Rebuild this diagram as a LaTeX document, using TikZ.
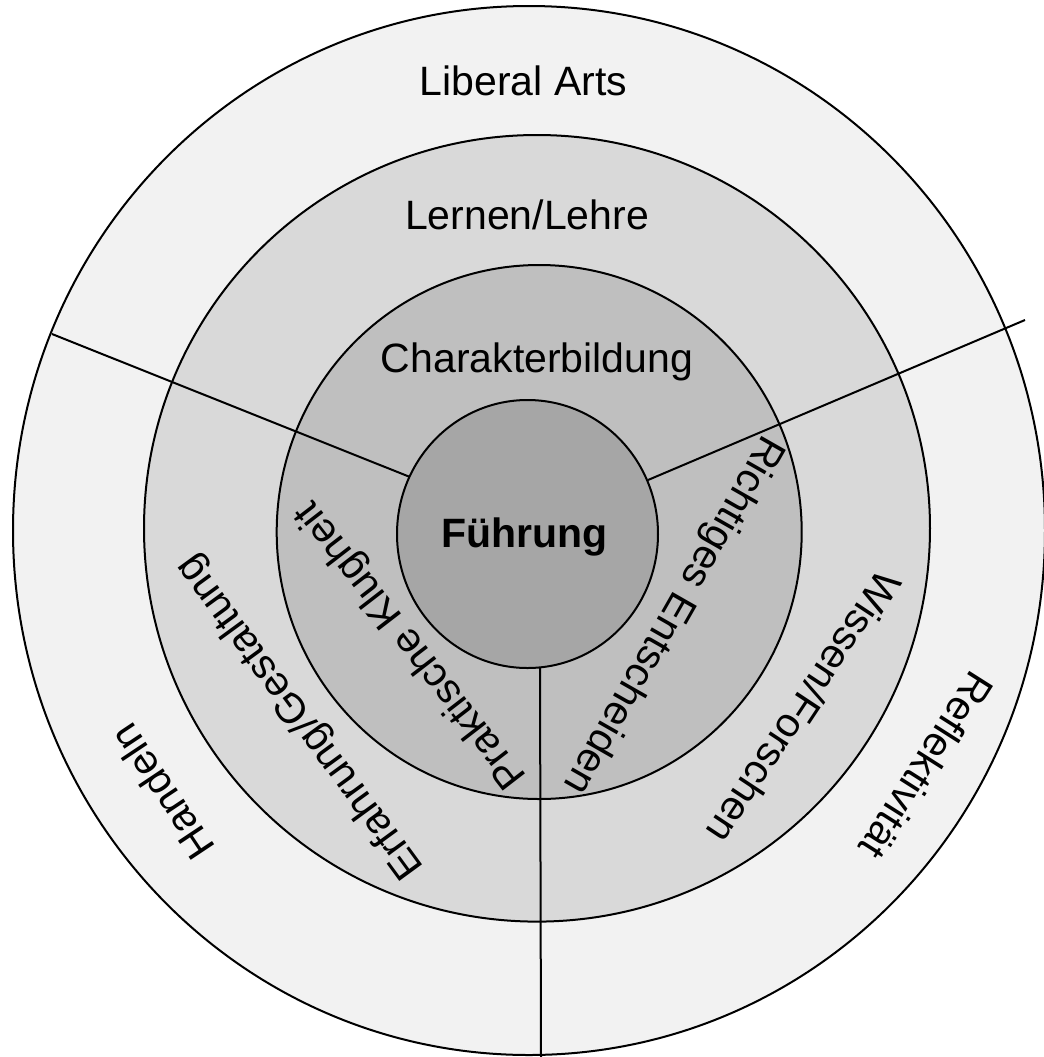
\documentclass[tikz,border=0pt]{standalone}
\usepackage{fontspec}
\setmainfont{Liberation Sans}
\definecolor{ringA}{HTML}{F2F2F2}
\definecolor{ringB}{HTML}{D9D9D9}
\definecolor{ringC}{HTML}{BFBFBF}
\definecolor{ringD}{HTML}{A6A6A6}
\begin{document}
\begin{tikzpicture}[x=0.5pt, y=-0.5pt,
  ring/.style={draw=black, line width=1pt},
  sep/.style={draw=black, line width=1pt},
  lbl/.style={font=\fontsize{20.5}{24}\selectfont, inner sep=0pt, text=black}]
\useasboundingbox (0,0) rectangle (1044,1057);
\fill[white] (0,0) rectangle (1044,1057);
% concentric discs
\filldraw[ring, fill=ringA] (529,530.5) ellipse [x radius=516, y radius=524.5];
\filldraw[ring, fill=ringB] (537,528.3) ellipse [x radius=393, y radius=393.3];
\filldraw[ring, fill=ringC] (539.2,532) ellipse [x radius=262.5, y radius=267];
% separator lines
\coordinate (LA) at (52,334);
\coordinate (LB) at (410,477);
\coordinate (RA) at (1025,320);
\coordinate (RB) at (648,480);
\coordinate (VA) at (540,668);
\coordinate (VB) at (541,1057);
\draw[sep] (LA) -- (LB);
\draw[sep] (RA) -- (RB);
\draw[sep] (VA) -- (VB);
% centre disc
\filldraw[ring, fill=ringD] (527.5,534) ellipse [x radius=130.5, y radius=134];
% horizontal labels
\node[lbl, anchor=base] (liberal) at (523.5,95) {Liberal Arts};
\node[lbl, anchor=base] (lernen) at (527,229.5) {Lernen/Lehre};
\node[lbl, anchor=base] (charakter) at (537,372) {Charakterbildung};
\node[lbl, anchor=base, font=\fontsize{20.5}{24}\selectfont\bfseries] (fuehrung) at (524.5,547) {Führung};
% right sector labels
\node[lbl, rotate=-119.7] (richtig) at (672.4,614.7) {Richtiges Entscheiden};
\node[lbl, rotate=-123.5] (wissen) at (804.5,708) {Wissen/Forschen};
\node[lbl, rotate=-122.4] (reflex) at (927,765.5) {Reflektivität};
% left sector labels
\node[lbl, rotate=127.7] (praktisch) at (411.7,644.5) {Praktische Klugheit};
\node[lbl, rotate=126.2] (erfahrung) at (300.7,717) {Erfahrung/Gestaltung};
\node[lbl, rotate=123.7] (handeln) at (161.7,792.3) {Handeln};
\end{tikzpicture}
\end{document}
